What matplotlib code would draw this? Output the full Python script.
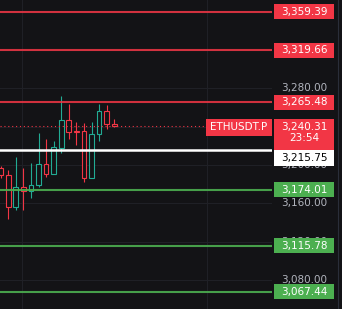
import matplotlib

matplotlib.use("Agg")

import matplotlib.pyplot as plt
from matplotlib.patches import Rectangle
from matplotlib.transforms import blended_transform_factory


BG_COLOR = "#131316"
GRID_COLOR = "#1f2026"
UP_COLOR = "#22ab94"
DOWN_COLOR = "#f23645"
GREEN_LEVEL = "#4caf50"
TICK_COLOR = "#b2b5be"

# candles, oldest first (first one is cut by the left edge)
OPENS = [3196.4, 3189.4, 3156.4, 3176.6, 3172.7, 3178.7, 3200.9, 3190.5,
         3217.3, 3246.8, 3235.6, 3235.7, 3186.3, 3232.2, 3256.2, 3242.3]
HIGHS = [3199.0, 3194.6, 3208.5, 3196.4, 3202.3, 3232.9, 3227.3, 3225.2,
         3271.8, 3263.5, 3244.4, 3244.0, 3245.0, 3263.5, 3262.5, 3247.8]
LOWS = [3186.0, 3143.2, 3153.0, 3153.0, 3165.1, 3177.2, 3187.0, 3190.0,
        3212.1, 3226.6, 3220.7, 3182.5, 3186.0, 3225.2, 3237.1, 3240.0]
CLOSES = [3189.4, 3156.4, 3176.6, 3172.7, 3178.7, 3200.9, 3190.5, 3218.3,
          3246.8, 3234.6, 3234.6, 3186.3, 3232.2, 3256.2, 3242.3, 3240.31]

RED_LEVELS = [3359.39, 3319.66, 3265.48]
GREEN_LEVELS = [3174.01, 3115.78, 3067.44]
WHITE_LEVEL = 3215.75
LAST_PRICE = 3240.31
SYMBOL = "ETHUSDT.P"
COUNTDOWN = "23:54"

PRICE_TICKS = [3360, 3320, 3280, 3240, 3200, 3160, 3120, 3080]
TIME_GRID = [2.8, 27.2]

Y_LIMITS = (3049.71, 3371.90)
PX = 1.04268  # price units per pixel


def fmt(value: float) -> str:
    return f"{value:,.2f}"


def draw_candles(ax) -> None:
    for i, (o, h, l, c) in enumerate(zip(OPENS, HIGHS, LOWS, CLOSES)):
        color = UP_COLOR if c >= o else DOWN_COLOR
        ax.vlines(i, l, h, color=color, lw=0.8, zorder=3)
        ax.bar(
            i,
            max(abs(c - o), 0.8),
            bottom=min(o, c),
            width=0.62,
            facecolor=BG_COLOR,
            edgecolor=color,
            linewidth=0.8,
            zorder=4,
        )


def price_box(ax, y_center, text, color, text_color="white", height=15.0):
    h = height * PX
    ax.add_patch(
        Rectangle((2, y_center - h / 2), 60, h, facecolor=color,
                  edgecolor="none", zorder=5)
    )
    ax.text(32, y_center, text, color=text_color, ha="center", va="center",
            fontsize=7.5, zorder=6)


def main() -> None:
    fig = plt.figure(figsize=(3.42, 3.09), dpi=100, facecolor=BG_COLOR)

    ax = fig.add_axes([0, 0, 272 / 342, 1])
    ax.set_facecolor(BG_COLOR)
    ax.set_xlim(-0.09, 35.84)
    ax.set_ylim(*Y_LIMITS)
    ax.axis("off")

    for t in TIME_GRID:
        ax.axvline(t, color=GRID_COLOR, lw=0.8, zorder=1)
    for p in PRICE_TICKS:
        ax.axhline(p, color=GRID_COLOR, lw=0.8, zorder=1)

    draw_candles(ax)

    for level in RED_LEVELS:
        ax.axhline(level, color=DOWN_COLOR, lw=1.5, alpha=0.85, zorder=5)
    for level in GREEN_LEVELS:
        ax.axhline(level, color=GREEN_LEVEL, lw=1.5, alpha=0.9, zorder=5)
    ax.axhline(WHITE_LEVEL, color="white", lw=1.8, zorder=5)

    ax.axhline(LAST_PRICE, xmax=206 / 272, color=DOWN_COLOR, lw=0.8,
               linestyle=(0, (1, 2.5)), zorder=5)

    trans = blended_transform_factory(ax.transAxes, ax.transData)
    ax.add_patch(
        Rectangle((206 / 272, 3230.4), 65.5 / 272, 17.1, transform=trans,
                  facecolor=DOWN_COLOR, edgecolor="none", zorder=6)
    )
    ax.text(239 / 272, 3239.0, SYMBOL, transform=trans, color="white",
            ha="center", va="center", fontsize=7.5, zorder=7)

    # price scale
    axp = fig.add_axes([272 / 342, 0, 70 / 342, 1])
    axp.set_facecolor(BG_COLOR)
    axp.set_xlim(0, 70)
    axp.set_ylim(*Y_LIMITS)
    axp.axis("off")
    axp.axvline(66, color="#2a2e39", lw=0.8)

    for p in PRICE_TICKS:
        axp.text(32, p, fmt(p), color=TICK_COLOR, ha="center", va="center",
                 fontsize=7.5, zorder=2)

    for level in RED_LEVELS:
        price_box(axp, level, fmt(level), DOWN_COLOR)
    for level in GREEN_LEVELS:
        price_box(axp, level, fmt(level), GREEN_LEVEL)

    # last price + countdown, white level pushed below it
    top, bottom = 3247.8, 3214.8
    axp.add_patch(
        Rectangle((2, bottom), 60, top - bottom, facecolor=DOWN_COLOR,
                  edgecolor="none", zorder=5)
    )
    axp.text(32, 3239.8, fmt(LAST_PRICE), color="white", ha="center",
             va="center", fontsize=7.5, zorder=6)
    axp.text(32, 3227.7, COUNTDOWN, color="white", ha="center",
             va="center", fontsize=7.5, zorder=6)
    price_box(axp, 3207.2, fmt(WHITE_LEVEL), "white", text_color="black",
              height=16.0)

    fig.savefig("out.png", dpi=100, facecolor=BG_COLOR)
    plt.close(fig)


if __name__ == "__main__":
    main()
